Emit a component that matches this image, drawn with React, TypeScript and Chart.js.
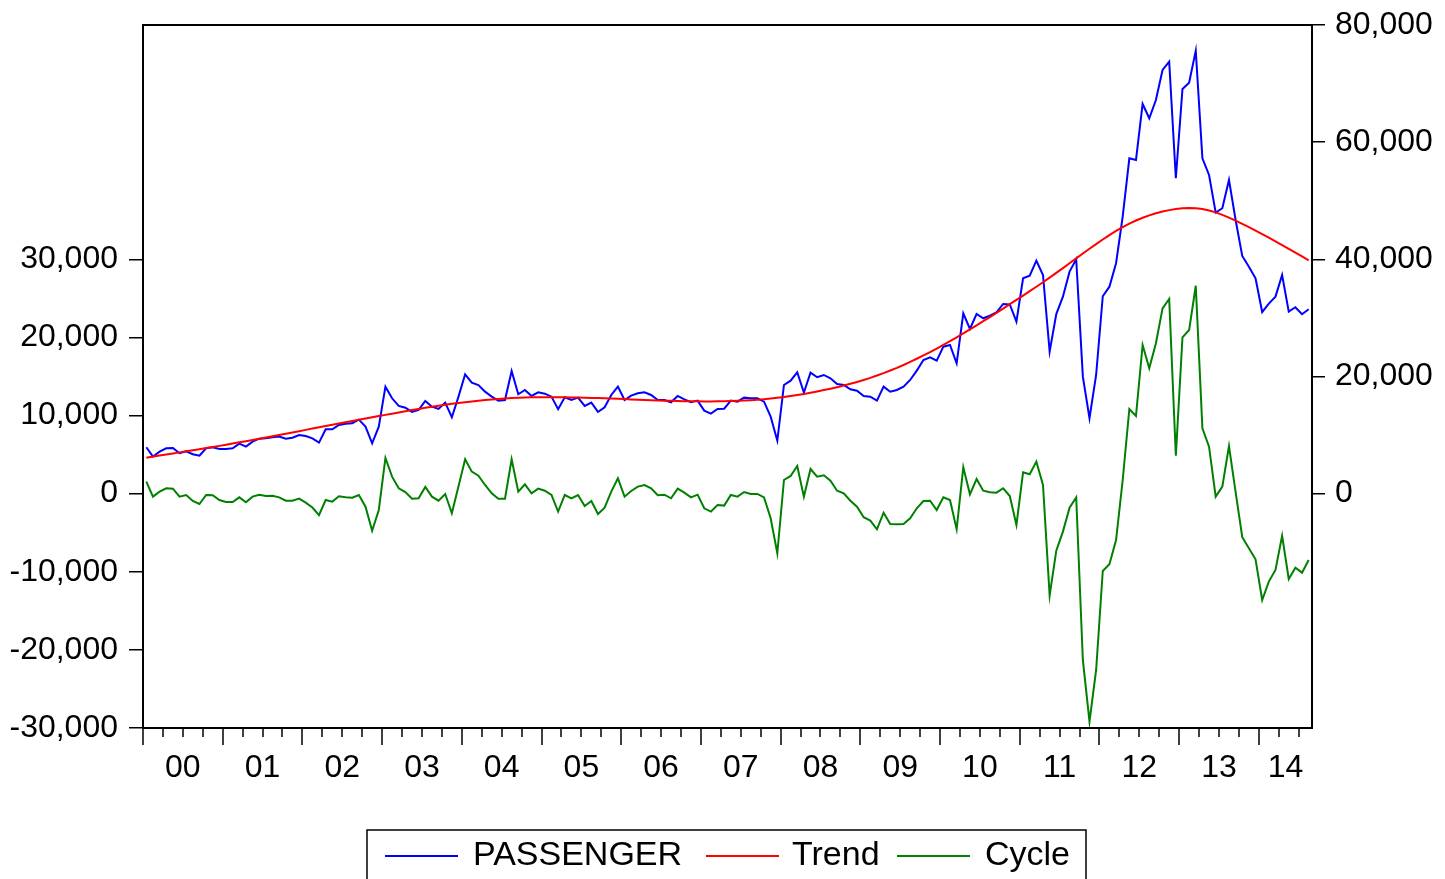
import { useEffect, useRef } from 'react';
import { Chart, registerables } from 'chart.js';

Chart.register(...registerables);

// Monthly observations, 2000M01 .. 2014M08
const monthsCount = 176;
const yearLabels = ['00', '01', '02', '03', '04', '05', '06', '07', '08', '09', '10', '11', '12', '13', '14'];

const passenger = [
  7920, 6320, 7170, 7750, 7800, 6900, 7240, 6730, 6490, 7750,
  7920, 7630, 7630, 7750, 8540, 8030, 8880, 9390, 9450, 9630,
  9740, 9390, 9560, 10020, 9850, 9450, 8710, 10990, 10990, 11730,
  11950, 12010, 12630, 11440, 8600, 11440, 18270, 16280, 14970, 14680,
  13950, 14290, 15820, 14850, 14460, 15540, 13040, 16560, 20380, 18950,
  18550, 17410, 16560, 15880, 15990, 20940, 16970, 17700, 16680, 17310,
  17070, 16560, 14410, 16460, 15990, 16390, 14970, 15540, 13950, 14750,
  16850, 18270, 15990, 16730, 17140, 17310, 16850, 15990, 15990, 15600,
  16680, 16110, 15600, 15880, 14170, 13660, 14460, 14500, 15880, 15700,
  16390, 16280, 16280, 15700, 13140, 9050, 18550, 19290, 20720, 17240,
  20650, 19870, 20260, 19700, 18730, 18550, 17820, 17580, 16680, 16560,
  15880, 18270, 17410, 17700, 18270, 19410, 21000, 22820, 23280, 22700,
  25090, 25380, 22260, 30790, 28110, 30670, 29940, 30380, 30960, 32380,
  32300, 29360, 36770, 37220, 39770, 37330, 24240, 30650, 33630, 37900,
  40010, 19970, 12870, 20260, 33700, 35330, 39330, 47300, 57250, 56960,
  66520, 64080, 67200, 72330, 73740, 53840, 69080, 70160, 75620, 57250,
  54400, 47970, 48720, 53550, 46720, 40570, 38750, 36770, 31000, 32440,
  33630, 37330, 31070, 31820, 30620, 31470,
];

const trend = [
  6150, 6330, 6510, 6690, 6870, 7050, 7230, 7410, 7590, 7780,
  7970, 8160, 8360, 8560, 8760, 8960, 9170, 9380, 9590, 9800,
  10010, 10230, 10450, 10670, 10890, 11110, 11330, 11550, 11770, 11990,
  12200, 12420, 12630, 12840, 13050, 13250, 13450, 13660, 13870, 14070,
  14270, 14460, 14650, 14830, 15000, 15170, 15330, 15480, 15620, 15750,
  15870, 15980, 16080, 16170, 16250, 16320, 16370, 16410, 16440, 16460,
  16470, 16470, 16460, 16440, 16420, 16400, 16370, 16340, 16310, 16270,
  16230, 16190, 16140, 16090, 16040, 15990, 15950, 15910, 15870, 15840,
  15810, 15790, 15770, 15760, 15750, 15750, 15760, 15780, 15810, 15850,
  15900, 15960, 16040, 16130, 16240, 16370, 16510, 16670, 16840, 17030,
  17230, 17450, 17680, 17920, 18180, 18460, 18750, 19070, 19410, 19770,
  20160, 20580, 21020, 21480, 21970, 22490, 23030, 23590, 24170, 24770,
  25390, 26030, 26680, 27350, 28040, 28730, 29440, 30150, 30870, 31600,
  32340, 33070, 33810, 34560, 35320, 36090, 36880, 37680, 38500, 39330,
  40170, 40990, 41800, 42600, 43380, 44130, 44840, 45500, 46100, 46630,
  47090, 47500, 47860, 48160, 48400, 48580, 48700, 48750, 48720, 48580,
  48340, 48010, 47600, 47130, 46610, 46060, 45490, 44900, 44300, 43690,
  43070, 42440, 41800, 41150, 40490, 39820,
];

const cycle = [
  1540, -380, 260, 690, 640, -380, -170, -940, -1320, -170,
  -210, -810, -1070, -1070, -470, -1110, -380, -130, -300, -260,
  -470, -900, -900, -640, -1150, -1780, -2760, -810, -1020, -340,
  -470, -510, -170, -1660, -4740, -2090, 4570, 2180, 690, 210,
  -640, -600, 860, -380, -900, -40, -2510, 950, 4400, 2820,
  2300, 1110, 50, -640, -640, 4400, 260, 1200, 50, 640,
  380, -170, -2300, -170, -590, -170, -1570, -930, -2600, -1790,
  260, 1970, -380, 350, 900, 1110, 690, -210, -130, -590,
  640, 130, -470, -130, -1870, -2300, -1450, -1530, -170, -380,
  210, -40, -40, -470, -3150, -7630, 1750, 2270, 3550, -380,
  3160, 2180, 2350, 1670, 380, 50, -900, -1660, -3020, -3450,
  -4560, -2430, -3880, -3920, -3880, -3150, -1870, -940, -900, -2090,
  -470, -810, -4560, 3380, -80, 1880, 380, 180, 130, 690,
  -300, -4010, 2740, 2480, 4100, 1110, -13060, -7300, -4860, -1790,
  -470, -21290, -29190, -22570, -9900, -9040, -5930, 1750, 10840, 9950,
  19030, 16050, 19250, 23730, 24920, 4860, 20020, 20950, 26620, 8370,
  6020, -380, 900, 6100, 200, -5580, -6990, -8400, -13610, -11260,
  -9770, -5410, -10920, -9470, -10110, -8490,
];

const leftTicks = [-30000, -20000, -10000, 0, 10000, 20000, 30000];
const rightTicks = [0, 20000, 40000, 60000, 80000];
const seriesNames = ['PASSENGER', 'Trend', 'Cycle'];
const seriesColors = ['#0000ff', '#ff0000', '#008000'];

const FONT = '"Liberation Sans", Arial, Helvetica, sans-serif';

// label positions: centred within each year (last year centred in its partial span)
const yearLabelPos = yearLabels.map((_, k) =>
  k < yearLabels.length - 1 ? k * 12 + 6 : (k * 12 + monthsCount) / 2
);

const toPoints = (arr: number[]) => arr.map((v, i) => ({ x: i + 0.5, y: v }));

const decorPlugin = {
  id: 'decor',
  afterDraw(chart: any) {
    const { ctx, chartArea: a } = chart;
    const xs = chart.scales.x;
    ctx.save();
    ctx.strokeStyle = '#000';
    ctx.lineWidth = 2;
    ctx.strokeRect(a.left, a.top, a.right - a.left, a.bottom - a.top);
    // x tick marks: quarterly minor, yearly major
    ctx.lineWidth = 1.5;
    for (let m = 0; m < monthsCount; m += 3) {
      const px = Math.round(xs.getPixelForValue(m));
      const len = m % 12 === 0 ? 17 : 9;
      ctx.beginPath();
      ctx.moveTo(px, a.bottom);
      ctx.lineTo(px, a.bottom + len);
      ctx.stroke();
    }
    // legend
    const boxL = 367, boxR = 1086, boxT = 830;
    ctx.lineWidth = 1.5;
    ctx.strokeRect(boxL, boxT, boxR - boxL, 80);
    const lineX = [385, 706, 897];
    const textX = [473, 792, 985];
    const ly = 856;
    ctx.font = `34px ${FONT}`;
    ctx.textBaseline = 'middle';
    ctx.textAlign = 'left';
    for (let k = 0; k < seriesNames.length; k++) {
      ctx.strokeStyle = seriesColors[k];
      ctx.lineWidth = 2;
      ctx.beginPath();
      ctx.moveTo(lineX[k], ly);
      ctx.lineTo(lineX[k] + 73, ly);
      ctx.stroke();
      ctx.fillStyle = '#000';
      ctx.fillText(seriesNames[k], textX[k], ly);
    }
    ctx.restore();
  },
};

const zeroVerticalPadding = (s: any) => {
  s.paddingTop = 0;
  s.paddingBottom = 0;
};

export default function App() {
  const canvasRef = useRef<HTMLCanvasElement | null>(null);

  useEffect(() => {
    const canvas = canvasRef.current;
    if (!canvas) return;
    const chart = new Chart(canvas, {
      type: 'line',
      data: {
        datasets: [
          {
            label: seriesNames[0],
            data: toPoints(passenger),
            borderColor: seriesColors[0],
            borderWidth: 2,
            pointRadius: 0,
            tension: 0,
            yAxisID: 'y1',
            order: 2,
          },
          {
            label: seriesNames[1],
            data: toPoints(trend),
            borderColor: seriesColors[1],
            borderWidth: 2,
            pointRadius: 0,
            tension: 0,
            yAxisID: 'y1',
            order: 1,
          },
          {
            label: seriesNames[2],
            data: toPoints(cycle),
            borderColor: seriesColors[2],
            borderWidth: 2,
            pointRadius: 0,
            tension: 0,
            yAxisID: 'y',
            order: 0,
          },
        ],
      },
      options: {
        responsive: false,
        animation: false,
        devicePixelRatio: 1,
        layout: { padding: { top: 25, left: 0, right: 0, bottom: 0 } },
        plugins: { legend: { display: false }, tooltip: { enabled: false } },
        scales: {
          x: {
            type: 'linear',
            min: 0,
            max: monthsCount,
            grid: { display: false },
            border: { display: false },
            afterBuildTicks: (s: any) => {
              s.ticks = yearLabelPos.map((v) => ({ value: v }));
            },
            afterFit: (s: any) => {
              s.height = 151;
              s.paddingLeft = 0;
              s.paddingRight = 0;
            },
            ticks: {
              autoSkip: false,
              maxRotation: 0,
              padding: 13,
              color: '#000',
              font: { family: FONT, size: 32 },
              callback: (v: any) => {
                const k = yearLabelPos.indexOf(Number(v));
                return k >= 0 ? yearLabels[k] : '';
              },
            },
          },
          y: {
            type: 'linear',
            position: 'left',
            min: -30000,
            max: 60000,
            border: { display: false },
            grid: {
              drawOnChartArea: false,
              drawTicks: true,
              tickLength: 14,
              color: '#000',
              lineWidth: 1.5,
            },
            afterBuildTicks: (s: any) => {
              s.ticks = leftTicks.map((v) => ({ value: v }));
            },
            afterFit: (s: any) => {
              s.width = 143;
              zeroVerticalPadding(s);
            },
            ticks: {
              padding: 11,
              color: '#000',
              font: { family: FONT, size: 32 },
              callback: (v: any) => Number(v).toLocaleString('en-US'),
            },
          },
          y1: {
            type: 'linear',
            position: 'right',
            min: -40000,
            max: 80000,
            border: { display: false },
            grid: {
              drawOnChartArea: false,
              drawTicks: true,
              tickLength: 13,
              color: '#000',
              lineWidth: 1.5,
            },
            afterBuildTicks: (s: any) => {
              s.ticks = rightTicks.map((v) => ({ value: v }));
            },
            afterFit: (s: any) => {
              s.width = 133;
              zeroVerticalPadding(s);
            },
            ticks: {
              padding: 10,
              color: '#000',
              font: { family: FONT, size: 32 },
              callback: (v: any) => Number(v).toLocaleString('en-US'),
            },
          },
        },
      },
      plugins: [decorPlugin],
    });
    return () => chart.destroy();
  }, []);

  return (
    <div style={{ position: 'fixed', left: 0, top: 0, width: 1445, height: 879, background: '#fff' }}>
      <canvas ref={canvasRef} width={1445} height={879} />
    </div>
  );
}
